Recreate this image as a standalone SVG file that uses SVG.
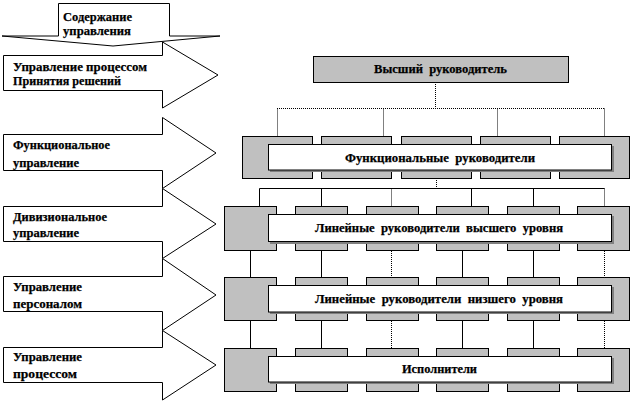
<svg xmlns="http://www.w3.org/2000/svg" width="631" height="404" viewBox="0 0 631 404" xml:space="preserve">
<defs>
<style>
.arrow{fill:#fff;stroke:#000;stroke-width:1}
.g{fill:#c0c0c0;stroke:#000;stroke-width:1}
.w{fill:#fff;stroke:#000;stroke-width:1}
.sh{fill:#808080}
.t{font-family:'Liberation Serif','DejaVu Serif',serif;font-weight:bold;font-size:13px;fill:#000;stroke:#000;stroke-width:0.25;white-space:pre}
.s{stroke:#000;stroke-width:1;fill:none}
.d{stroke:#000;stroke-width:1;fill:none;stroke-dasharray:1,1}
</style>
</defs>
<rect width="631" height="404" fill="#fff"/>

<g id="arrows">
<g id="a1"><polygon class="arrow" points="58.5,3.5 169.5,3.5 169.5,36 220,36 113,46 2,36 58.5,36"/>
<text class="t" font-family="Liberation Serif, serif" x="63" y="21" textLength="69" lengthAdjust="spacingAndGlyphs">Содержание</text><text class="t" font-family="Liberation Serif, serif" x="63" y="35" textLength="68" lengthAdjust="spacingAndGlyphs">управления</text></g>
<g id="a2"><polygon class="arrow" points="3.5,55.5 162.5,55.5 162.5,42 218,75 162.5,108 162.5,90.5 3.5,90.5"/>
<text class="t" x="13" y="71" textLength="134" lengthAdjust="spacingAndGlyphs">Управление процессом</text><text class="t" x="13" y="85" textLength="108" lengthAdjust="spacingAndGlyphs">Принятия решений</text></g>
<g id="a3"><polygon class="arrow" points="3.5,134.5 162.5,134.5 162.5,117.5 216,153 162.5,188.5 162.5,170.5 3.5,170.5"/>
<text class="t" x="13" y="149" textLength="97" lengthAdjust="spacingAndGlyphs">Функциональное</text><text class="t" x="13" y="167" textLength="66" lengthAdjust="spacingAndGlyphs">управление</text></g>
<g id="a4"><polygon class="arrow" points="3.5,206.5 162.5,206.5 162.5,188.5 216,224 162.5,258.5 162.5,241.5 3.5,241.5"/>
<text class="t" x="13" y="221" textLength="94" lengthAdjust="spacingAndGlyphs">Дивизиональное</text><text class="t" x="13" y="237" textLength="66" lengthAdjust="spacingAndGlyphs">управление</text></g>
<g id="a5"><polygon class="arrow" points="3.5,276.5 162.5,276.5 162.5,258.5 216,295 162.5,330.5 162.5,311.5 3.5,311.5"/>
<text class="t" x="13" y="291" textLength="69" lengthAdjust="spacingAndGlyphs">Управление</text><text class="t" x="13" y="308" textLength="69" lengthAdjust="spacingAndGlyphs">персоналом</text></g>
<g id="a6"><polygon class="arrow" points="3.5,347.5 162.5,347.5 162.5,330.5 216,365 162.5,400 162.5,382.5 3.5,382.5"/>
<text class="t" x="13" y="361" textLength="69" lengthAdjust="spacingAndGlyphs">Управление</text><text class="t" x="13" y="378" textLength="64" lengthAdjust="spacingAndGlyphs">процессом</text></g>
</g>

<g id="connectors">
<path class="d" d="M435.5,82 V108.5 M277,108.5 H604.5 M277.5,108.5 V136 M383.5,108.5 V136 M497.5,108.5 V136 M604.5,108.5 V136"/>
<path class="d" d="M436.5,178 V188"/>
<path class="s" d="M259.5,188.5 H604.5 M259.5,188.5 V206 M321.5,188.5 V206 M471.5,188.5 V206 M533.5,188.5 V206"/>
<path class="d" d="M391.5,188.5 V206 M604.5,188.5 V206"/>
<path class="s" d="M250.5,251 V277 M321.5,251 V277 M462.5,251 V277 M533.5,251 V277"/>
<path class="d" d="M391.5,251 V277 M604.5,251 V277"/>
<path class="s" d="M250.5,321 V348 M321.5,321 V348 M462.5,321 V348 M533.5,321 V348"/>
<path class="d" d="M391.5,321 V348 M604.5,321 V348"/>
</g>

<g id="top">
<rect class="g" x="313.5" y="56.5" width="255" height="26"/>
<text class="t" x="374" y="73" textLength="133" lengthAdjust="spacingAndGlyphs">Высший  руководитель</text>
</g>

<g id="functional">
<rect class="g" x="242.5" y="136.5" width="70" height="42"/>
<rect class="g" x="321.5" y="136.5" width="70" height="42"/>
<rect class="g" x="401.5" y="136.5" width="70" height="42"/>
<rect class="g" x="480.5" y="136.5" width="70" height="42"/>
<rect class="g" x="559.5" y="136.5" width="70" height="42"/>
<rect class="sh" x="270" y="146" width="344" height="26"/>
<rect class="w" x="268.5" y="144.5" width="343" height="25.5"/>
<text class="t" x="345" y="162" textLength="190" lengthAdjust="spacingAndGlyphs">Функциональные  руководители</text>
</g>

<g id="line-high">
<rect class="g" x="224.5" y="206.5" width="52" height="44"/>
<rect class="g" x="295.5" y="206.5" width="52" height="44"/>
<rect class="g" x="366.5" y="206.5" width="52" height="44"/>
<rect class="g" x="436.5" y="206.5" width="52" height="44"/>
<rect class="g" x="507.5" y="206.5" width="52" height="44"/>
<rect class="g" x="577.5" y="206.5" width="52" height="44"/>
<rect class="sh" x="270" y="216" width="344" height="28"/>
<rect class="w" x="268.5" y="214.5" width="343" height="27"/>
<text class="t" x="315" y="232" textLength="248" lengthAdjust="spacingAndGlyphs">Линейные  руководители  высшего  уровня</text>
</g>

<g id="line-low">
<rect class="g" x="224.5" y="277.5" width="52" height="43"/>
<rect class="g" x="295.5" y="277.5" width="52" height="43"/>
<rect class="g" x="366.5" y="277.5" width="52" height="43"/>
<rect class="g" x="436.5" y="277.5" width="52" height="43"/>
<rect class="g" x="507.5" y="277.5" width="52" height="43"/>
<rect class="g" x="577.5" y="277.5" width="52" height="43"/>
<rect class="sh" x="270" y="287" width="344" height="27"/>
<rect class="w" x="268.5" y="285.5" width="343" height="26.5"/>
<text class="t" x="315" y="303" textLength="248" lengthAdjust="spacingAndGlyphs">Линейные  руководители  низшего  уровня</text>
</g>

<g id="executors">
<rect class="g" x="224.5" y="348.5" width="52" height="43"/>
<rect class="g" x="295.5" y="348.5" width="52" height="43"/>
<rect class="g" x="366.5" y="348.5" width="52" height="43"/>
<rect class="g" x="436.5" y="348.5" width="52" height="43"/>
<rect class="g" x="507.5" y="348.5" width="52" height="43"/>
<rect class="g" x="577.5" y="348.5" width="52" height="43"/>
<rect class="sh" x="270" y="358" width="344" height="26"/>
<rect class="w" x="268.5" y="356.5" width="343" height="25.5"/>
<text class="t" x="402" y="373" textLength="75" lengthAdjust="spacingAndGlyphs">Исполнители</text>
</g>
</svg>
